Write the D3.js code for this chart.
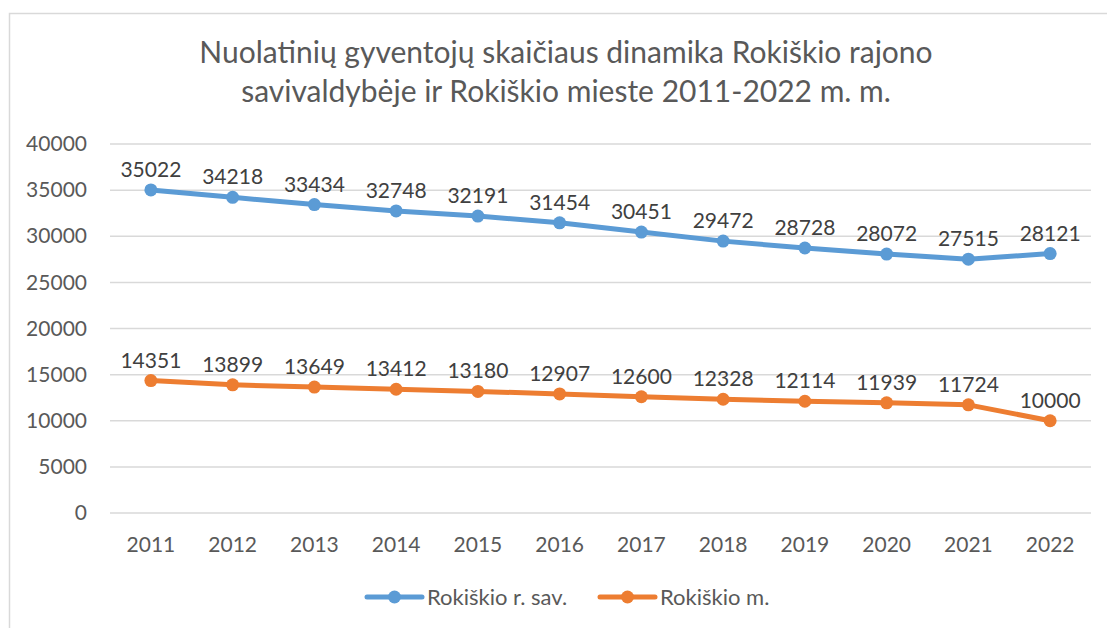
<!DOCTYPE html>
<html>
<head>
<meta charset="utf-8">
<script src="https://cdn.jsdelivr.net/npm/d3@7"></script>
<style>
  body { margin: 0; background: #fff; }
  svg { display: block; font-family: Lato, "Open Sans", sans-serif; }
</style>
</head>
<body>
<div id="chart"></div>
<script>
var years = ["2011","2012","2013","2014","2015","2016","2017","2018","2019","2020","2021","2022"];
var savValues = [35022,34218,33434,32748,32191,31454,30451,29472,28728,28072,27515,28121];
var miestoValues = [14351,13899,13649,13412,13180,12907,12600,12328,12114,11939,11724,10000];
var yTicks = [0,5000,10000,15000,20000,25000,30000,35000,40000];
var seriesNames = ["Rokiškio r. sav.", "Rokiškio m."];
var seriesColors = ["#5b9bd5", "#ed7d31"];
var titleLines = ["Nuolatinių gyventojų skaičiaus dinamika Rokiškio rajono",
                  "savivaldybėje ir Rokiškio mieste 2011-2022 m. m."];

var width = 1107, height = 628;
var margin = {left: 110, right: 16, top: 144, bottom: 115};

var svg = d3.select("#chart").append("svg")
  .attr("width", width).attr("height", height);

// chart border
svg.append("rect")
  .attr("x", 9.5).attr("y", 13.5)
  .attr("width", width + 10).attr("height", height + 10)
  .attr("fill", "none").attr("stroke", "#d9d9d9").attr("stroke-width", 1.5);

// title
svg.append("g").selectAll("text")
  .data(titleLines)
  .enter().append("text")
  .attr("x", 566)
  .attr("y", function(d, i) { return 63 + i * 39; })
  .attr("text-anchor", "middle")
  .attr("font-size", 30)
  .attr("fill", "#595959")
  .text(function(d) { return d; });

var x = d3.scaleBand()
  .domain(years)
  .range([margin.left, width - margin.right]);

var y = d3.scaleLinear()
  .domain([0, 40000])
  .range([height - margin.bottom, margin.top]);

// gridlines
svg.append("g").selectAll("line")
  .data(yTicks)
  .enter().append("line")
  .attr("x1", margin.left).attr("x2", width - margin.right)
  .attr("y1", function(d) { return y(d); })
  .attr("y2", function(d) { return y(d); })
  .attr("stroke", "#d9d9d9").attr("stroke-width", 1.5);

// y axis
var yAxis = svg.append("g")
  .attr("transform", "translate(" + (margin.left - 23) + ",0)")
  .call(d3.axisLeft(y).tickValues(yTicks).tickFormat(d3.format("d")).tickSize(0).tickPadding(0));
yAxis.select(".domain").remove();
yAxis.selectAll("text")
  .attr("font-family", "Lato, sans-serif")
  .attr("font-size", 21).attr("fill", "#595959");

// x axis
var xAxis = svg.append("g")
  .attr("transform", "translate(0," + (height - margin.bottom + 24) + ")")
  .call(d3.axisBottom(x).tickSize(0).tickPadding(0));
xAxis.select(".domain").remove();
xAxis.selectAll("text")
  .attr("font-family", "Lato, sans-serif")
  .attr("font-size", 21).attr("fill", "#595959");

var series = [savValues, miestoValues];
var line = d3.line()
  .x(function(d, i) { return x(years[i]) + x.bandwidth() / 2; })
  .y(function(d) { return y(d); });

series.forEach(function(values, s) {
  var g = svg.append("g");
  g.append("path")
    .datum(values)
    .attr("d", line)
    .attr("fill", "none")
    .attr("stroke", seriesColors[s])
    .attr("stroke-width", 5)
    .attr("stroke-linejoin", "round")
    .attr("stroke-linecap", "round");
  g.selectAll("circle")
    .data(values)
    .enter().append("circle")
    .attr("cx", function(d, i) { return x(years[i]) + x.bandwidth() / 2; })
    .attr("cy", function(d) { return y(d); })
    .attr("r", 6.5)
    .attr("fill", seriesColors[s]);
  g.selectAll("text")
    .data(values)
    .enter().append("text")
    .attr("x", function(d, i) { return x(years[i]) + x.bandwidth() / 2; })
    .attr("y", function(d) { return y(d) - 13; })
    .attr("text-anchor", "middle")
    .attr("font-size", 21)
    .attr("fill", "#404040")
    .text(function(d) { return d; });
});

// legend
var legendX = [367, 600];
var legend = svg.append("g").selectAll("g")
  .data(seriesNames)
  .enter().append("g")
  .attr("transform", function(d, i) { return "translate(" + legendX[i] + ",597)"; });
legend.append("line")
  .attr("x1", 0).attr("x2", 55)
  .attr("stroke", function(d, i) { return seriesColors[i]; })
  .attr("stroke-width", 5).attr("stroke-linecap", "round");
legend.append("circle")
  .attr("cx", 27.5).attr("r", 6.5)
  .attr("fill", function(d, i) { return seriesColors[i]; });
legend.append("text")
  .attr("x", 60).attr("y", 7.5)
  .attr("font-size", 22).attr("fill", "#595959")
  .text(function(d) { return d; });
</script>
</body>
</html>
